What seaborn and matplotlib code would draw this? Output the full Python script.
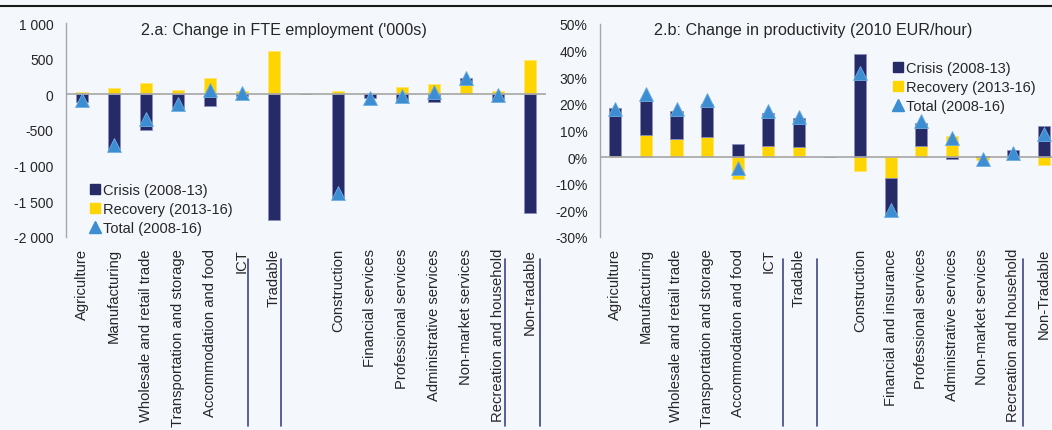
import numpy as np
import pandas as pd
import matplotlib
matplotlib.use("Agg")
import matplotlib.pyplot as plt
from matplotlib.lines import Line2D
from matplotlib.ticker import FuncFormatter, MultipleLocator
from matplotlib.transforms import blended_transform_factory
import seaborn as sns

# ---- 2.a: change in FTE employment ('000s) ----
emp_sectors = ["Agriculture", "Manufacturing", "Wholesale and retail trade",
               "Transportation and storage", "Accommodation and food", "ICT",
               "Tradable", " ", "Construction", "Financial services",
               "Professional services", "Administrative services",
               "Non-market services", "Recreation and household", "Non-tradable"]
emp_crisis = [-105, -800, -497, -197, -160, -30, -1760, np.nan,
              -1455, -55, -114, -114, 90, -66, -1670]
emp_recovery = [30, 94, 155, 55, 230, 52, 614, np.nan,
                50, 0, 100, 147, 137, 52, 485]
emp_total = [-75, -713, -347, -130, 65, 18, np.nan, np.nan,
             -1390, -58, -20, 35, 228, -12, np.nan]

# ---- 2.b: change in productivity (2010 EUR/hour), % ----
prod_sectors = ["Agriculture", "Manufacturing", "Wholesale and retail trade",
                "Transportation and storage", "Accommodation and food", "ICT",
                "Tradable", " ", "Construction", "Financial and insurance",
                "Professional services", "Administrative services",
                "Non-market services", "Recreation and household", "Non-Tradable"]
prod_crisis = [18.1, 13.6, 10.5, 12.5, 5.1, 12.5, 10.8, np.nan,
               38.6, -13.9, 8.9, -0.8, 0.6, 2.8, 11.6]
prod_recovery = [0.5, 8.2, 6.8, 7.6, -8.4, 4.0, 3.8, np.nan,
                 -5.2, -8.0, 4.0, 7.8, -1.0, -1.0, -2.9]
prod_total = [18.2, 23.7, 18.0, 21.4, -4.2, 17.3, 15.0, np.nan,
              31.5, -19.7, 13.5, 7.2, -0.6, 1.5, 8.7]

legend_labels = ["Crisis (2008-13)", "Recovery (2013-16)", "Total (2008-16)"]

NAVY = "#262A66"
GOLD = "#FFD500"
SKY = "#3D8DD3"
BG = "#F4F8FC"
GREY = "#A6A6A6"
TEXT = "#262626"
DIVIDER = "#3E4488"

sns.set_style("white")
plt.rcParams["font.family"] = ["Liberation Sans", "DejaVu Sans"]
plt.rcParams["font.size"] = 10

W, H = 1052, 431
fig = plt.figure(figsize=(W / 100, H / 100), dpi=100, facecolor=BG)


def box(x0, y0, x1, y1):
    return [x0 / W, 1 - y1 / H, (x1 - x0) / W, (y1 - y0) / H]


def stacked_panel(ax, sectors, crisis, recovery, total):
    cri = np.nan_to_num(np.asarray(crisis, dtype=float))
    rec = np.nan_to_num(np.asarray(recovery, dtype=float))
    # crisis stacks on recovery when both point the same way
    base = np.where(np.sign(cri) == np.sign(rec), rec, 0.0)
    df = pd.DataFrame({"sector": sectors, "crisis": cri, "recovery": rec,
                       "total": total})
    sns.barplot(data=df, x="sector", y="recovery", order=sectors, color=GOLD,
                width=0.4, errorbar=None, saturation=1, ax=ax,
                edgecolor="#FFE36A", linewidth=0.6, zorder=2)
    sns.barplot(data=df, x="sector", y="crisis", order=sectors, color=NAVY,
                width=0.4, errorbar=None, saturation=1, ax=ax, bottom=base,
                edgecolor="#8A8FBF", linewidth=0.6, zorder=2)
    ax.axhline(0, color=GREY, lw=1.2, zorder=2.5)
    sns.pointplot(data=df, x="sector", y="total", order=sectors, color=SKY,
                  marker="^", linestyle="none", errorbar=None, ax=ax,
                  markersize=9.5, markeredgewidth=0.6, markeredgecolor="#6FAEE3",
                  zorder=4)
    ax.set_xlim(-0.5, len(sectors) - 0.5)
    ax.set_xlabel("")
    ax.set_ylabel("")
    ax.set_facecolor("none")
    for s in ["top", "right", "bottom"]:
        ax.spines[s].set_visible(False)
    ax.spines["left"].set_color(GREY)
    ax.spines["left"].set_linewidth(1)
    ax.tick_params(axis="x", length=0, labelrotation=90, pad=8,
                   labelsize=10.6, labelcolor=TEXT)
    ax.tick_params(axis="y", length=0, pad=9, labelsize=10, labelcolor=TEXT)


def dividers(ax, positions):
    tr = blended_transform_factory(ax.transData, fig.transFigure)
    for p in positions:
        ax.add_line(Line2D([p, p], [1 - 260 / H, 1 - 427 / H], transform=tr,
                           color=DIVIDER, lw=1.2, clip_on=False))


def legend(ax, x, y):
    handles = [
        Line2D([], [], marker="s", linestyle="none", color=NAVY, markersize=7),
        Line2D([], [], marker="s", linestyle="none", color=GOLD, markersize=7),
        Line2D([], [], marker="^", linestyle="none", color=SKY, markersize=9),
    ]
    ax.legend(handles, legend_labels, loc="upper left",
              bbox_to_anchor=(x / W, 1 - y / H), bbox_transform=fig.transFigure,
              frameon=False, borderpad=0, borderaxespad=0, handlelength=0.7,
              handletextpad=0.2, labelspacing=0.36, fontsize=10.5,
              labelcolor=TEXT)


# employment panel
ax1 = fig.add_axes(box(66, 24, 546, 238))
stacked_panel(ax1, emp_sectors, emp_crisis, emp_recovery, emp_total)
ax1.set_ylim(-2000, 1000)
ax1.yaxis.set_major_locator(MultipleLocator(500))
ax1.yaxis.set_major_formatter(FuncFormatter(
    lambda v, _: f"{int(round(v)):,}".replace(",", " ")))
dividers(ax1, [5.19, 6.22, 13.22, 14.31])
legend(ax1, 90, 184)

# productivity panel
ax2 = fig.add_axes(box(600, 25, 1059, 238))
stacked_panel(ax2, prod_sectors, prod_crisis, prod_recovery, prod_total)
ax2.set_ylim(-30, 50)
ax2.yaxis.set_major_locator(MultipleLocator(10))
ax2.yaxis.set_major_formatter(FuncFormatter(lambda v, _: f"{int(round(v))}%"))
dividers(ax2, [5.48, 6.59, 13.32])
legend(ax2, 893, 62)

fig.text(284 / W, 1 - 30 / H, "2.a: Change in FTE employment ('000s)",
         ha="center", va="center", fontsize=11.6, color=TEXT)
fig.text(813 / W, 1 - 30 / H, "2.b: Change in productivity (2010 EUR/hour)",
         ha="center", va="center", fontsize=11.6, color=TEXT)

fig.add_artist(Line2D([0, 1], [1 - 7 / H, 1 - 7 / H], transform=fig.transFigure,
                      color="#1A1A1A", lw=1.5))

fig.savefig("out.png", dpi=100, facecolor=BG)
